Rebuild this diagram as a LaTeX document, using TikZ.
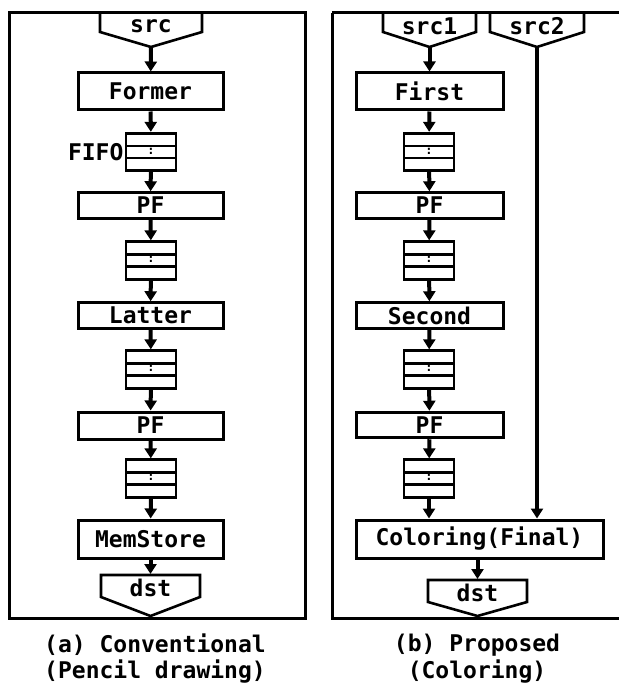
\documentclass[tikz,border=0pt]{standalone}
\usepackage{fontspec}
\setmainfont{DejaVu Sans Mono}
\usetikzlibrary{arrows.meta}
\begin{document}
\begin{tikzpicture}[x=1pt,y=-1pt,
  font=\fontsize{23}{26}\selectfont\bfseries,
  frame/.style={line width=3pt},
  box/.style={draw,line width=3pt,rectangle,inner sep=0pt,minimum width=145pt},
  tallbox/.style={box,minimum height=37pt},
  flatbox/.style={box,minimum height=25.5pt},
  fifo/.style={draw,line width=2.8pt,rectangle,inner sep=0pt,minimum width=50pt,minimum height=37.5pt,
    path picture={
      \draw[line width=2.5pt] ([yshift=-12.7pt]path picture bounding box.north west) -- ([yshift=-12.7pt]path picture bounding box.north east);
      \draw[line width=2.5pt] ([yshift=12.7pt]path picture bounding box.south west) -- ([yshift=12.7pt]path picture bounding box.south east);
      \node[font=\fontsize{12}{12}\selectfont\bfseries,inner sep=0pt] at ([yshift=1pt]path picture bounding box.center) {:};
    }},
  port/.style={line width=2.6pt,line join=miter},
  arr/.style={line width=4pt,-{Triangle[length=10pt,width=12pt]}},
  lbl/.style={inner sep=0pt}
]
\useasboundingbox (0,0) rectangle (618,687);
% frames
\draw[frame] (9,13) rectangle (305,618);
\draw[frame] (332,13) -- (624,13);
\draw[frame] (332,13) -- (332,618) -- (624,618);

% ---------- left column ----------
\draw[port] (100,13) -- (100,32) -- (151,47) -- (202,32) -- (202,13);
\node[lbl] (src) at (151,26) {src};
\coordinate (srctip) at (151,47);
\node[tallbox] (former) at (150.5,91.5) {Former};
\node[fifo] (fa1) at (151,152) {};
\node[lbl,anchor=east] (fifolbl) at ([xshift=-1pt]fa1.west) {FIFO};
\node[flatbox] (pfa1) at (150.5,205.5) {PF};
\node[fifo] (fa2) at (151,260.5) {};
\node[flatbox] (latter) at (150.5,315.5) {Latter};
\node[fifo] (fa3) at (151,369.5) {};
\node[flatbox,minimum height=27pt] (pfa2) at (150.5,425.5) {PF};
\node[fifo] (fa4) at (151,478.5) {};
\node[tallbox,minimum height=38pt] (memstore) at (150.5,539) {MemStore};
\draw[port] (101,575) -- (101,597) -- (150.5,616) -- (200,597) -- (200,575) -- cycle;
\node[lbl] (dsta) at (150.5,588) {dst};
\coordinate (dstatop) at (150.5,575);

\draw[arr] (srctip) -- (former);
\draw[arr] (former) -- (fa1);
\draw[arr] (fa1) -- (pfa1);
\draw[arr] (pfa1) -- (fa2);
\draw[arr] (fa2) -- (latter);
\draw[arr] (latter) -- (fa3);
\draw[arr] (fa3) -- (pfa2);
\draw[arr] (pfa2) -- (fa4);
\draw[arr] (fa4) -- (memstore);
\draw[arr] (memstore) -- ([yshift=1pt]dstatop);

% ---------- right column ----------
\draw[port] (383,13) -- (383,32) -- (429.5,47) -- (476,32) -- (476,13);
\node[lbl] (src1) at (429.5,26) {src1};
\coordinate (src1tip) at (429.5,47);
\draw[port] (490,13) -- (490,32) -- (537,47) -- (584,32) -- (584,13);
\node[lbl] (src2) at (537,26) {src2};
\coordinate (src2tip) at (537,47);

\node[tallbox,minimum width=147pt] (first) at (429.5,91.5) {First};
\node[fifo] (fb1) at (429,152) {};
\node[flatbox,minimum width=147pt] (pfb1) at (429.5,205.5) {PF};
\node[fifo] (fb2) at (429,260.5) {};
\node[flatbox,minimum width=147pt] (second) at (429.5,315.5) {Second};
\node[fifo] (fb3) at (429,369.5) {};
\node[flatbox,minimum width=147pt] (pfb2) at (429.5,425) {PF};
\node[fifo] (fb4) at (429,478.5) {};
\node[box,minimum width=247pt,minimum height=38pt] (coloring) at (479.5,539) {Coloring(Final)};
\draw[port] (428,580) -- (428,602) -- (477.5,616) -- (527,602) -- (527,580) -- cycle;
\node[lbl] (dstb) at (477.5,593) {dst};
\coordinate (dstbtop) at (477.5,580);

\draw[arr] (src1tip) -- (first);
\draw[arr] (first) -- (fb1);
\draw[arr] (fb1) -- (pfb1);
\draw[arr] (pfb1) -- (fb2);
\draw[arr] (fb2) -- (second);
\draw[arr] (second) -- (fb3);
\draw[arr] (fb3) -- (pfb2);
\draw[arr] (pfb2) -- (fb4);
\draw[arr] (fb4) -- (fb4 |- coloring.north);
\draw[arr] (src2tip) -- (src2tip |- coloring.north);
\draw[arr] (coloring.south -| dstbtop) -- ([yshift=1pt]dstbtop);

% captions
\node[lbl] (capa1) at (155,645) {(a) Conventional};
\node[lbl] (capa2) at (155,672) {(Pencil drawing)};
\node[lbl] (capb1) at (477,645) {(b) Proposed};
\node[lbl] (capb2) at (477,672) {(Coloring)};
\end{tikzpicture}
\end{document}
